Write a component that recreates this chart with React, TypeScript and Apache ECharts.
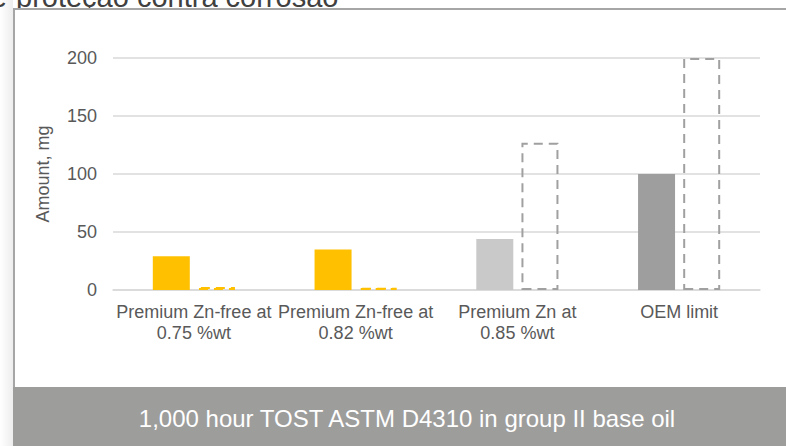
import React, { useEffect, useRef } from "react";
import * as echarts from "echarts";

const categories = [
  "Premium Zn-free at\n0.75 %wt",
  "Premium Zn-free at\n0.82 %wt",
  "Premium Zn at\n0.85 %wt",
  "OEM limit",
];
const solidValues = [29, 35, 44, 100];
const dashedValues = [2.5, 2, 127, 200];
const solidColors = ["#FFC000", "#FFC000", "#C9C9C9", "#9E9E9E"];
const dashedColors = ["#FFC000", "#FFC000", "#A0A0A0", "#A0A0A0"];
const yTicks = { min: 0, max: 200, interval: 50 };
const yName = "Amount, mg";
const footerText = "1,000 hour TOST ASTM D4310 in group II base oil";
const titleText = "proteção contra corrosão";

export default function App() {
  const ref = useRef<HTMLDivElement>(null);
  useEffect(() => {
    if (!ref.current) return;
    const chart = echarts.init(ref.current, undefined, { renderer: "svg" });
    const font = "Liberation Sans, Arial, sans-serif";
    chart.setOption({
      animation: false,
      backgroundColor: "#FFFFFF",
      textStyle: { fontFamily: font },
      grid: { left: 113, right: 26, top: 58, bottom: 156, containLabel: false },
      xAxis: {
        type: "category",
        data: categories,
        axisLine: { show: true, lineStyle: { color: "#D9D9D9", width: 1.5 } },
        axisTick: { show: false },
        axisLabel: {
          color: "#595959",
          fontSize: 18,
          fontFamily: font,
          margin: 11,
          lineHeight: 21,
          interval: 0,
        },
      },
      yAxis: {
        type: "value",
        min: yTicks.min,
        max: yTicks.max,
        interval: yTicks.interval,
        name: yName,
        nameLocation: "middle",
        nameGap: 61,
        nameTextStyle: { color: "#595959", fontSize: 18, fontFamily: font },
        axisLine: { show: false },
        axisTick: { show: false },
        axisLabel: { color: "#595959", fontSize: 18, fontFamily: font, margin: 16 },
        splitLine: { lineStyle: { color: "#D9D9D9", width: 1.5 } },
      },
      series: [
        {
          type: "bar",
          barWidth: 37,
          barGap: "22%",
          data: solidValues.map((v, i) => ({
            value: v,
            itemStyle: { color: solidColors[i] },
          })),
        },
        {
          type: "bar",
          barWidth: 37,
          data: dashedValues.map((v, i) => ({
            value: v,
            itemStyle: {
              color: "rgba(255,255,255,0)",
              borderColor: dashedColors[i],
              borderWidth: 2,
              borderType: [9, 6],
            },
          })),
        },
      ],
      graphic: [
        {
          type: "rect",
          shape: { x: 0, y: 0, width: 13, height: 446 },
          style: {
            fill: new echarts.graphic.LinearGradient(0, 0, 1, 0, [
              { offset: 0, color: "#FFFFFF" },
              { offset: 1, color: "#EDEDED" },
            ]),
          },
          silent: true,
        },
        {
          type: "text",
          x: 16,
          y: 11,
          style: {
            text: titleText,
            fontSize: 29,
            fontFamily: font,
            fill: "#404040",
            verticalAlign: "bottom",
            align: "left",
          },
          silent: true,
        },
        {
          type: "text",
          x: 7,
          y: 11,
          style: {
            text: "e",
            fontSize: 29,
            fontFamily: font,
            fill: "#404040",
            verticalAlign: "bottom",
            align: "right",
          },
          silent: true,
        },
        {
          type: "rect",
          shape: { x: 15, y: 10, width: 771, height: 6 },
          style: { fill: "#FFFFFF" },
          silent: true,
        },
        {
          type: "rect",
          shape: { x: 13, y: 8, width: 773, height: 2 },
          style: { fill: "#A6A6A6" },
          silent: true,
        },
        {
          type: "rect",
          shape: { x: 13, y: 8, width: 2, height: 438 },
          style: { fill: "#A6A6A6" },
          silent: true,
        },
        {
          type: "rect",
          shape: { x: 13, y: 387, width: 773, height: 59 },
          style: { fill: "#9D9D9C" },
          silent: true,
        },
        {
          type: "text",
          x: 407,
          y: 418,
          style: {
            text: footerText,
            fontSize: 24,
            fontFamily: font,
            fill: "#FFFFFF",
            align: "center",
            verticalAlign: "middle",
          },
          silent: true,
        },
      ],
    });
    return () => chart.dispose();
  }, []);
  return (
    <div
      ref={ref}
      style={{ position: "fixed", left: 0, top: 0, width: 786, height: 446 }}
    />
  );
}
